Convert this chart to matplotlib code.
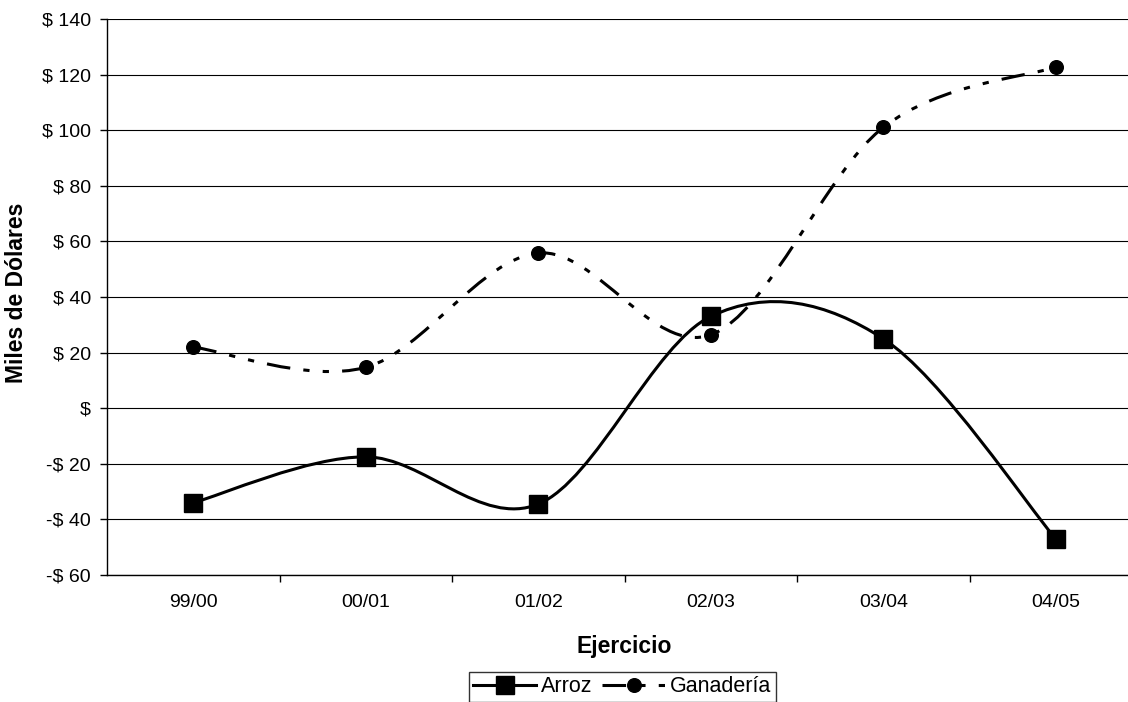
import matplotlib
matplotlib.use("Agg")
import matplotlib.pyplot as plt
from matplotlib.path import Path
from matplotlib.patches import PathPatch
from matplotlib.lines import Line2D
from matplotlib.ticker import FuncFormatter, MultipleLocator, FixedLocator

plt.rcParams['font.family'] = ['Liberation Sans', 'DejaVu Sans']
plt.rcParams['lines.scale_dashes'] = False

categories = ["99/00", "00/01", "01/02", "02/03", "03/04", "04/05"]
arroz = [-34, -17.5, -34.5, 33, 25, -47]
ganaderia = [22, 14.7, 55.8, 26.4, 101, 122.7]

W, H = 1128, 702
fig = plt.figure(figsize=(W / 100, H / 100), dpi=100)
ax = fig.add_axes([107 / W, 127 / H, 1035 / W, 556 / H])

x = list(range(len(categories)))


def smooth_path(xs, ys):
    """Bezier path through the points (Catmull-Rom style smoothing, 1/6 tangents)."""
    n = len(xs)
    verts = [(xs[0], ys[0])]
    codes = [Path.MOVETO]
    for i in range(n - 1):
        i0 = max(i - 1, 0)
        i3 = min(i + 2, n - 1)
        c1 = (xs[i] + (xs[i + 1] - xs[i0]) / 6, ys[i] + (ys[i + 1] - ys[i0]) / 6)
        c2 = (xs[i + 1] - (xs[i3] - xs[i]) / 6, ys[i + 1] - (ys[i3] - ys[i]) / 6)
        verts += [c1, c2, (xs[i + 1], ys[i + 1])]
        codes += [Path.CURVE4] * 3
    return Path(verts, codes)


LW = 2.2
dash = (0, (17, 9.5, 4.5, 9.5, 4.5, 9.5))
SQ, CI = 12.8, 9.8

ax.add_patch(PathPatch(smooth_path(x, arroz), fill=False, edgecolor='black',
                       linewidth=LW, zorder=3, capstyle='butt', joinstyle='round'))
ax.plot(x, arroz, linestyle='none', marker='s', markersize=SQ,
        color='black', zorder=4)

ax.add_patch(PathPatch(smooth_path(x, ganaderia), fill=False, edgecolor='black',
                       linewidth=LW, linestyle=dash, zorder=5, capstyle='butt'))
ax.plot(x, ganaderia, linestyle='none', marker='o', markersize=CI,
        color='black', zorder=6)

ax.set_xlim(-0.5, len(categories) - 0.5)
ax.set_ylim(-60, 140)

ax.yaxis.set_major_locator(MultipleLocator(20))


def money(v, pos):
    v = int(round(v))
    if v == 0:
        return "$"
    if v < 0:
        return "-$ %d" % (-v)
    return "$ %d" % v


ax.yaxis.set_major_formatter(FuncFormatter(money))
ax.grid(axis='y', color='black', linewidth=0.8, zorder=1)
ax.set_axisbelow(True)

ax.set_xticks(x)
ax.set_xticklabels(categories)
ax.xaxis.set_minor_locator(FixedLocator([i + 0.5 for i in range(len(categories) - 1)]))
ax.tick_params(axis='x', which='major', length=0, pad=14, labelsize=14)
ax.tick_params(axis='x', which='minor', length=5, width=1, direction='out')
ax.tick_params(axis='y', which='major', length=5, width=1, direction='out',
               pad=6.5, labelsize=14)

for side in ('top', 'right'):
    ax.spines[side].set_visible(False)
for side in ('left', 'bottom'):
    ax.spines[side].set_linewidth(1)
    ax.spines[side].set_color('black')

fig.text(17 / W, 1 - 293 / H, "Miles de Dólares", rotation=90, fontsize=16.5,
         fontweight='bold', ha='center', va='center')
fig.text(624 / W, 1 - 647 / H, "Ejercicio", fontsize=16.5,
         fontweight='bold', ha='center', va='center')

handles = [
    Line2D([], [], color='black', linewidth=LW, marker='s', markersize=SQ),
    Line2D([], [], color='black', linewidth=LW, linestyle=dash, marker='o',
           markersize=CI, dash_capstyle='butt'),
]
leg = fig.legend(handles, ["Arroz", "Ganadería"], loc='upper left',
                 bbox_to_anchor=(469 / W, 1 - 672 / H), ncol=2,
                 fontsize=15.5, frameon=True, fancybox=False, handlelength=2.9,
                 handletextpad=0.25, columnspacing=0.45, borderpad=0.2,
                 borderaxespad=0)
leg.get_frame().set_edgecolor('black')
leg.get_frame().set_linewidth(1)

fig.savefig("out.png", dpi=100)
